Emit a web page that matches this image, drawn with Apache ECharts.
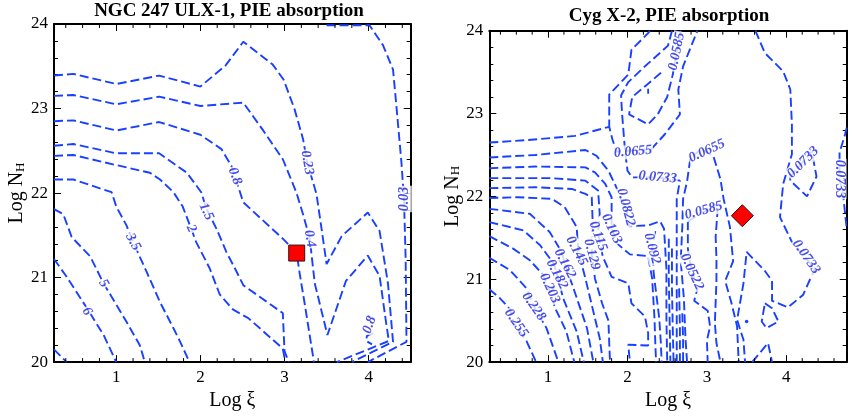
<!DOCTYPE html>
<html>
<head>
<meta charset="utf-8">
<script src="https://cdn.jsdelivr.net/npm/echarts@6/dist/echarts.min.js"></script>
<style>
html,body{margin:0;padding:0;background:#fff;}
#chart{width:852px;height:416px;}
</style>
</head>
<body>
<div id="chart"></div>
<script>
// ---- axes ----
const FONT = 'Liberation Serif';
const LINE_BLUE = '#1a40ff';
const LABEL_BLUE = '#1a22e0';
const xTickValues = [1, 2, 3, 4];
const yRange = [20, 24];
const xRangeNgc = [0.26, 4.5];
const xRangeCyg = [0.26, 4.76];

// ---- NGC 247 ULX-1 contours: [log xi, log N_H] ----
const ngc_023 = [[0.26,23.39],[0.49,23.41],[1.00,23.29],[1.51,23.39],[2.00,23.26],[2.30,23.51],[2.51,23.79],[2.86,23.52],[2.99,23.34],[3.12,22.99],[3.22,22.64],[3.27,22.36],[3.38,21.99],[3.44,21.58],[3.50,21.16],[3.68,21.49],[3.99,21.77],[4.13,21.55],[4.23,20.93],[4.29,20.24],[3.80,20.0]];
const ngc_04 = [[0.26,23.15],[0.49,23.16],[1.00,23.05],[1.51,23.14],[2.00,23.03],[2.51,23.07],[2.74,22.75],[2.98,22.40],[3.14,22.01],[3.22,21.75],[3.30,21.46],[3.36,20.93],[3.51,20.32],[3.73,20.96],[3.99,21.26],[4.13,21.02],[4.20,20.52],[4.24,20.25],[3.62,20.0]];
const ngc_08 = [[0.26,22.85],[0.49,22.86],[1.00,22.74],[1.51,22.84],[2.00,22.69],[2.25,22.52],[2.37,22.32],[2.41,22.20],[2.51,21.89],[2.98,21.46],[3.145,21.29],[3.18,21.05],[3.24,20.69],[3.35,20.0]];
const ngc_15 = [[0.26,22.56],[0.49,22.58],[1.00,22.47],[1.51,22.47],[1.84,22.24],[2.01,22.01],[2.07,21.82],[2.19,21.58],[2.31,21.30],[2.41,21.11],[2.51,20.91],[2.98,20.58],[3.00,20.13],[3.05,20.0]];
const ngc_2 = [[0.26,22.44],[0.49,22.45],[0.96,22.34],[1.40,22.24],[1.52,22.16],[1.68,22.01],[1.79,21.84],[1.89,21.58],[1.95,21.42],[2.11,21.11],[2.23,20.80],[2.39,20.62],[2.57,20.52],[2.98,20.16],[3.01,20.0]];
const ngc_35 = [[0.26,22.16],[0.49,22.16],[0.945,22.01],[1.00,21.84],[1.12,21.62],[1.20,21.42],[1.36,21.07],[1.52,20.71],[1.68,20.40],[1.76,20.24],[1.87,20.0]];
const ngc_5 = [[0.26,21.81],[0.37,21.75],[0.47,21.48],[0.69,21.25],[0.85,20.93],[1.12,20.48],[1.28,20.20],[1.34,20.0]];
const ngc_6 = [[0.26,21.22],[0.41,21.01],[0.65,20.64],[0.85,20.32],[1.00,20.0]];
const ngc_8 = [[0.26,20.15],[0.41,20.0]];
const ngc_003 = [[3.50,23.985],[4.01,23.985],[4.17,23.75],[4.29,23.46],[4.33,23.03],[4.39,22.36],[4.42,21.93],[4.44,21.22],[4.45,20.24],[3.99,20.0]];
const ngc_08hook = [[4.05,20.34],[3.98,20.31],[3.97,20.25],[4.04,20.21]];
const ngcLabels = [
  [3.27,22.36,'0.23',-80],[3.30,21.46,'0.4',-80],[2.41,22.20,'0.8',-70],[2.07,21.78,'1.5',-65],
  [1.89,21.58,'2',-65],[1.20,21.42,'3.5',-62],[0.85,20.93,'5',-60],[0.65,20.60,'6',-57],
  [4.01,20.44,'0.8',70],[4.43,21.93,'0.03',90]
];
const ngcBestFit = [3.145, 21.29];

// ---- Cyg X-2 contours ----
const cyg_0255 = [[0.26,20.88],[0.395,20.77],[0.52,20.64],[0.58,20.45],[0.73,20.25],[0.85,20.0]];
const cyg_0228 = [[0.26,21.26],[0.52,21.11],[0.73,20.89],[0.81,20.69],[0.98,20.41],[1.13,20.0]];
const cyg_0203 = [[0.26,21.52],[0.56,21.37],[0.77,21.23],[0.94,21.05],[1.00,20.91],[1.09,20.65],[1.23,20.37],[1.33,20.0]];
const cyg_0182 = [[0.26,21.69],[0.69,21.59],[0.90,21.41],[1.07,21.19],[1.11,21.07],[1.19,20.77],[1.36,20.37],[1.45,20.0]];
const cyg_0162 = [[0.26,21.85],[0.77,21.79],[1.02,21.57],[1.17,21.33],[1.21,21.19],[1.32,20.89],[1.49,20.41],[1.57,20.0]];
const cyg_0145 = [[0.26,21.98],[0.62,21.99],[1.05,21.97],[1.21,21.87],[1.36,21.63],[1.38,21.34],[1.47,21.01],[1.59,20.53],[1.65,20.29],[1.69,20.0]];
const cyg_0129 = [[0.26,22.10],[0.84,22.11],[1.30,22.09],[1.47,22.03],[1.55,21.99],[1.56,21.73],[1.55,21.30],[1.59,21.01],[1.68,20.71],[1.76,20.50],[1.77,20.23],[1.78,20.0]];
const cyg_0115 = [[0.26,22.22],[1.05,22.22],[1.47,22.19],[1.63,22.07],[1.65,21.79],[1.63,21.55],[1.69,21.27],[1.80,21.03],[2.01,20.95],[2.05,20.71],[2.22,20.55],[2.26,20.35],[2.26,20.20],[2.01,20.21],[2.03,20.0]];
const cyg_0103 = [[0.26,22.34],[0.84,22.36],[1.47,22.35],[1.59,22.29],[1.72,22.15],[1.80,21.99],[1.80,21.63],[1.87,21.43],[2.03,21.30],[2.26,21.28],[2.31,21.01],[2.34,20.53],[2.35,20.23],[2.36,20.0]];
const cyg_0092 = [[2.35,21.58],[2.31,21.37],[2.33,21.07],[2.40,20.53],[2.42,20.23],[2.43,20.0]];
const cyg_0822 = [[0.26,22.47],[0.84,22.50],[1.47,22.56],[1.61,22.49],[1.76,22.31],[1.86,22.11],[1.92,21.96],[1.98,21.87],[2.02,21.64],[2.26,21.65],[2.41,21.70],[2.46,21.61],[2.49,21.13],[2.49,20.53],[2.50,20.0]];
const cyg_0733 = [[2.56,24.0],[2.51,23.82],[2.22,23.57],[2.01,23.38],[1.92,23.22],[1.93,23.02],[1.97,22.54],[2.00,22.31],[2.06,22.23],[2.38,22.23],[2.66,22.19],[2.62,21.97],[2.62,21.49],[2.62,20.89],[2.62,20.41],[2.62,20.0]];
const cyg_0733v = [[2.28,24.0],[2.26,23.97],[2.05,23.77],[2.01,23.47],[1.77,23.23],[1.77,22.84]];
const cyg_0655 = [[0.26,22.65],[0.75,22.68],[1.34,22.73],[1.77,22.84],[1.81,22.69],[1.86,22.54],[2.30,22.57],[2.47,22.75],[2.66,22.99],[2.64,23.29],[2.70,23.57],[2.88,24.0]];
const cyg_0585top = [[2.67,24.0],[2.62,23.74],[2.57,23.47],[2.50,23.20],[2.38,22.99],[2.26,22.87],[2.02,22.99],[2.06,23.20],[2.26,23.36],[2.43,23.50]];
const cyg_valleyDot = [[2.26,23.24],[2.26,23.30]];
const cyg_b1 = [[2.52,21.49],[2.52,21.01],[2.53,20.53],[2.54,20.0]];
const cyg_b2 = [[2.56,21.37],[2.56,20.89],[2.57,20.41],[2.58,20.0]];
const cyg_b3 = [[2.65,20.89],[2.66,20.41],[2.66,20.0]];
const cyg_b4 = [[2.69,20.59],[2.70,20.29],[2.70,20.0]];
const cyg_0655arch = [[2.75,20.0],[2.73,20.29],[2.71,20.77],[2.67,21.22],[2.69,21.63],[2.70,21.97],[2.75,22.18],[2.79,22.45],[2.92,22.57],[3.08,22.49],[3.17,22.21],[3.21,21.97],[3.29,21.63],[3.33,21.22],[3.23,20.98],[3.31,20.71],[3.38,20.43],[3.40,20.0]];
const cyg_0585mid = [[2.76,21.70],[3.14,21.91],[3.11,21.51],[3.12,21.25],[3.12,20.98],[3.10,20.47],[3.12,20.23],[3.17,20.0]];
const cyg_0522 = [[2.76,21.70],[2.76,21.37],[2.81,21.09],[2.88,20.89],[2.84,20.74],[3.01,20.62],[3.04,20.43],[3.00,20.26],[3.01,20.0]];
const cyg_0733r = [[3.61,24.0],[3.73,23.73],[3.96,23.51],[4.05,23.29],[4.07,22.87],[4.07,22.51],[3.96,22.15],[3.92,21.75],[4.08,21.43],[4.36,21.13],[4.21,20.81],[4.02,20.66],[3.82,20.74],[3.82,20.98],[3.73,21.10],[3.50,21.33],[3.46,20.95],[3.38,20.51],[3.46,20.27],[3.48,20.0]];
const cyg_0733ring = [[4.05,22.23],[4.13,22.33],[4.32,22.54],[4.38,22.24],[4.26,22.00],[4.05,22.19],[4.05,22.23]];
const cyg_smallRing = [[3.73,20.71],[3.82,20.65],[3.90,20.49],[3.75,20.41],[3.69,20.49],[3.73,20.71]];
const cyg_cap = [[3.57,20.0],[3.77,20.23],[3.82,20.0]];
const cyg_edge = [[4.76,22.83],[4.74,22.75],[4.67,22.53],[4.67,22.21],[4.72,21.97],[4.76,21.61]];
const cygSpot = [[3.50,20.49]];
const cygLabels = [
  [2.07,22.54,'0.0655',5],[2.38,22.23,'0.0733',-5],[3.00,22.55,'0.0655',25],[4.21,22.41,'0.0733',45],
  [2.62,23.75,'0.0585',78],[1.98,21.87,'0.0822',-75],[4.67,22.21,'0.0733',-90],[1.80,21.61,'0.103',-65],
  [1.63,21.52,'0.115',-70],[1.55,21.30,'0.129',-75],[1.36,21.34,'0.145',-62],[1.21,21.19,'0.162',-62],
  [1.11,21.06,'0.182',-62],[1.02,20.89,'0.203',-65],[0.82,20.67,'0.228',-55],[0.60,20.47,'0.255',-55],
  [2.31,21.37,'0.092',-75],[2.81,21.09,'0.0522',-65],[2.96,21.83,'0.0585',15],[4.25,21.27,'0.0733',-55]
];
const cygBestFit = [3.446, 21.767];

const ngcContours = [ngc_023, ngc_04, ngc_08, ngc_15, ngc_2, ngc_35, ngc_5, ngc_6, ngc_8, ngc_003, ngc_08hook];
const cygContours = [cyg_0255, cyg_0228, cyg_0203, cyg_0182, cyg_0162, cyg_0145, cyg_0129, cyg_0115, cyg_0103,
  cyg_0092, cyg_0822, cyg_0733, cyg_0733v, cyg_0655, cyg_0585top, cyg_b1, cyg_b2, cyg_b3, cyg_b4,
  cyg_0655arch, cyg_0585mid, cyg_0522, cyg_0733r, cyg_0733ring, cyg_smallRing, cyg_cap, cyg_edge];

// ---- builders ----
function minorValues(lo, hi) {
  const out = [];
  for (let k = Math.ceil(lo * 5 + 1e-9); k <= Math.floor(hi * 5 - 1e-9); k++) {
    if (k % 5 !== 0) out.push([k / 5, 22]);
  }
  return out;
}

function xAxes(grid, range) {
  const common = {
    gridIndex: grid, type: 'value', min: range[0], max: range[1],
    splitLine: { show: false },
    axisLine: { show: true, onZero: false, lineStyle: { color: '#000', width: 2 } },
    axisTick: { show: true, inside: true, length: 7, customValues: xTickValues, lineStyle: { color: '#000', width: 1 } }
  };
  return [
    Object.assign({}, common, {
      position: 'bottom',
      axisLabel: { show: true, customValues: xTickValues, fontFamily: FONT, fontSize: 17, color: '#000', margin: 7 },
      name: 'Log ξ', nameLocation: 'middle', nameGap: 25,
      nameTextStyle: { fontFamily: FONT, fontSize: 20, color: '#000' }
    }),
    Object.assign({}, common, { position: 'top', axisLabel: { show: false } })
  ];
}

function yAxes(grid) {
  const common = {
    gridIndex: grid, type: 'value', min: yRange[0], max: yRange[1], interval: 1,
    splitLine: { show: false },
    axisLine: { show: true, onZero: false, lineStyle: { color: '#000', width: 2 } },
    axisTick: { show: true, inside: true, length: 7, lineStyle: { color: '#000', width: 1 } },
    minorTick: { show: true, splitNumber: 5, length: 4, lineStyle: { color: '#000', width: 1 } }
  };
  return [
    Object.assign({}, common, {
      position: 'left',
      axisLabel: { show: true, fontFamily: FONT, fontSize: 17, color: '#000', margin: 6 },
      name: '{a|Log N}{s|H}', nameLocation: 'middle', nameGap: 23, nameRotate: 90,
      nameTextStyle: {
        color: '#000',
        rich: {
          a: { fontFamily: FONT, fontSize: 20, color: '#000', lineHeight: 23, verticalAlign: 'bottom' },
          s: { fontFamily: FONT, fontSize: 13, color: '#000', lineHeight: 13, verticalAlign: 'bottom' }
        }
      }
    }),
    Object.assign({}, common, { position: 'right', axisLabel: { show: false } })
  ];
}

function contourSeries(data, xi, yi) {
  return {
    type: 'line', xAxisIndex: xi, yAxisIndex: yi, data: data,
    showSymbol: false, symbol: 'none', silent: true, z: 2, animation: false,
    lineStyle: { color: LINE_BLUE, width: 1.9, type: [9, 4] }
  };
}

function labelSeries(list, xi, yi) {
  return {
    type: 'scatter', xAxisIndex: xi, yAxisIndex: yi, z: 5, silent: true, animation: false,
    symbolSize: 1, itemStyle: { color: 'rgba(0,0,0,0)' },
    label: {
      show: true, position: 'inside', fontFamily: FONT, fontStyle: 'italic', fontWeight: 'bold',
      fontSize: 14, color: LABEL_BLUE, backgroundColor: '#fff', padding: [0, 1]
    },
    data: list.map(d => ({ value: [d[0], d[1]], label: { formatter: d[2], rotate: d[3] } }))
  };
}

function minorTickSeries(range, xi, yi) {
  return {
    type: 'custom', xAxisIndex: xi, yAxisIndex: yi, silent: true, animation: false, z: 3,
    data: minorValues(range[0], range[1]),
    renderItem: function (params, api) {
      const v = api.value(0);
      const b = api.coord([v, yRange[0]]);
      const t = api.coord([v, yRange[1]]);
      return {
        type: 'group',
        children: [
          { type: 'line', shape: { x1: b[0], y1: b[1], x2: b[0], y2: b[1] - 4 }, style: { stroke: '#000', lineWidth: 1 } },
          { type: 'line', shape: { x1: t[0], y1: t[1], x2: t[0], y2: t[1] + 4 }, style: { stroke: '#000', lineWidth: 1 } }
        ]
      };
    }
  };
}

const series = [];
ngcContours.forEach(c => series.push(contourSeries(c, 0, 0)));
cygContours.forEach(c => series.push(contourSeries(c, 2, 2)));
series.push(Object.assign(contourSeries(cyg_valleyDot, 2, 2), { lineStyle: { color: LINE_BLUE, width: 1.8 } }));
series.push({
  type: 'scatter', xAxisIndex: 2, yAxisIndex: 2, data: cygSpot, symbol: 'circle', symbolSize: 3.5,
  itemStyle: { color: LINE_BLUE, opacity: 1 }, silent: true, animation: false, z: 3
});
series.push(labelSeries(ngcLabels, 0, 0));
series.push(labelSeries(cygLabels, 2, 2));
series.push(minorTickSeries(xRangeNgc, 0, 0));
series.push(minorTickSeries(xRangeCyg, 2, 2));
series.push({
  type: 'scatter', xAxisIndex: 0, yAxisIndex: 0, data: [ngcBestFit], symbol: 'rect', symbolSize: 16,
  itemStyle: { color: '#ff0000', opacity: 1, borderColor: '#3a1010', borderWidth: 1 }, silent: true, animation: false, z: 8
});
series.push({
  type: 'scatter', xAxisIndex: 2, yAxisIndex: 2, data: [cygBestFit], symbol: 'diamond', symbolSize: [22, 22],
  itemStyle: { color: '#ff0000', opacity: 1, borderColor: '#3a1010', borderWidth: 1 }, silent: true, animation: false, z: 8
});

const chart = echarts.init(document.getElementById('chart'), null, { renderer: 'canvas' });
chart.setOption({
  animation: false,
  backgroundColor: '#fff',
  grid: [
    { left: 54, top: 24, width: 356.7, height: 340 },
    { left: 489.3, top: 30.7, width: 357.4, height: 333.3 }
  ],
  xAxis: xAxes(0, xRangeNgc).concat(xAxes(1, xRangeCyg)),
  yAxis: yAxes(0).concat(yAxes(1)),
  graphic: [
    { type: 'text', x: 229, y: 11, style: { text: 'NGC 247 ULX-1, PIE absorption', font: 'bold 19px "Liberation Serif"', fill: '#000', textAlign: 'center', textVerticalAlign: 'middle' } },
    { type: 'text', x: 669, y: 16, style: { text: 'Cyg X-2, PIE absorption', font: 'bold 19px "Liberation Serif"', fill: '#000', textAlign: 'center', textVerticalAlign: 'middle' } }
  ],
  series: series
});
</script>
</body>
</html>
